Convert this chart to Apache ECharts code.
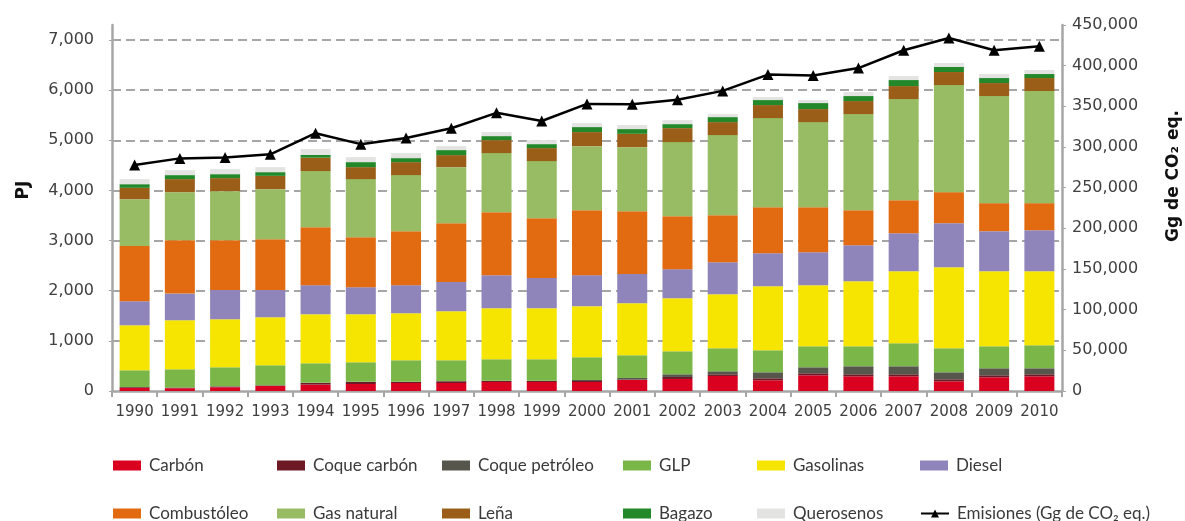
<!DOCTYPE html>
<html>
<head>
<meta charset="utf-8">
<script src="https://cdn.jsdelivr.net/npm/echarts@6/dist/echarts.min.js"></script>
<style>
  html, body { margin: 0; padding: 0; background: #fff; }
  #chart { width: 1185px; height: 521px; }
</style>
</head>
<body>
<div id="chart"></div>
<script>
// años
const years = ["1990", "1991", "1992", "1993", "1994", "1995", "1996", "1997", "1998", "1999", "2000",
  "2001", "2002", "2003", "2004", "2005", "2006", "2007", "2008", "2009", "2010"];

// consumo por combustible (PJ)
const carbon = [60, 55, 75, 100, 128, 140, 160, 160, 180, 180, 180, 220, 240, 300, 214, 313, 293, 293, 193, 273, 293];
const coqueCarbon = [15, 12, 15, 10, 32, 40, 20, 33, 20, 20, 20, 10, 40, 33, 39, 40, 40, 40, 40, 40, 40];
const coquePetroleo = [5, 3, 4, 4, 5, 5, 5, 5, 5, 5, 20, 30, 53, 60, 120, 120, 160, 160, 140, 140, 120];
const glp = [333, 363, 379, 399, 388, 388, 428, 415, 428, 428, 453, 453, 459, 459, 439, 419, 399, 459, 479, 439, 459];
const gasolinas = [898, 978, 958, 958, 978, 958, 938, 978, 1018, 1018, 1018, 1038, 1058, 1078, 1278, 1218, 1298, 1437, 1617, 1497, 1477];
const diesel = [479, 533, 585, 545, 579, 539, 559, 585, 659, 605, 619, 585, 579, 639, 659, 658, 718, 758, 878, 799, 818];
const combustoleo = [1100, 1064, 992, 1012, 1157, 998, 1078, 1171, 1257, 1191, 1297, 1251, 1058, 938, 918, 899, 699, 660, 619, 559, 540];
const gasNatural = [936, 958, 978, 998, 1120, 1158, 1118, 1118, 1178, 1138, 1277, 1277, 1477, 1597, 1776, 1696, 1916, 2016, 2136, 2136, 2236];
const lena = [226, 260, 260, 265, 266, 239, 259, 240, 259, 260, 280, 266, 279, 259, 260, 260, 260, 259, 260, 259, 259];
const bagazo = [73, 80, 79, 74, 54, 100, 80, 100, 80, 79, 100, 94, 80, 100, 100, 120, 100, 120, 100, 100, 80];
const querosenos = [101, 99, 100, 100, 119, 100, 100, 79, 80, 80, 80, 80, 80, 60, 60, 60, 80, 80, 80, 80, 80];

// emisiones (Gg de CO2 eq.)
const emisiones = [278000, 286000, 287000, 291000, 317000, 303500, 311000, 323000, 342000, 332000, 353000,
  352600, 358000, 369000, 389000, 388000, 397000, 419000, 434000, 419000, 424000];

const pjTicks = [0, 1000, 2000, 3000, 4000, 5000, 6000, 7000];

const fuels = [
  { name: "Carbón", data: carbon, color: "#da0020" },
  { name: "Coque carbón", data: coqueCarbon, color: "#6d1a26" },
  { name: "Coque petróleo", data: coquePetroleo, color: "#56564c" },
  { name: "GLP", data: glp, color: "#7ab648" },
  { name: "Gasolinas", data: gasolinas, color: "#f6e500" },
  { name: "Diesel", data: diesel, color: "#8f85ba" },
  { name: "Combustóleo", data: combustoleo, color: "#e26a10" },
  { name: "Gas natural", data: gasNatural, color: "#98bc64" },
  { name: "Leña", data: lena, color: "#9b5e18" },
  { name: "Bagazo", data: bagazo, color: "#22882a" },
  { name: "Querosenos", data: querosenos, color: "#e3e3e1" }
];
const lineName = "Emisiones (Gg de CO\u2082 eq.)";

const fmt = v => String(v).replace(/\B(?=(\d{3})+(?!\d))/g, ",");

const series = fuels.map(f => ({
  name: f.name,
  type: "bar",
  stack: "total",
  barWidth: 30,
  data: f.data,
  itemStyle: { color: f.color },
  emphasis: { disabled: true }
}));
series.push({
  name: lineName,
  type: "line",
  yAxisIndex: 1,
  data: emisiones,
  symbol: "triangle",
  symbolSize: 11,
  itemStyle: { color: "#000" },
  lineStyle: { color: "#000", width: 2.5 },
  emphasis: { disabled: true },
  z: 5
});

// leyenda: dos filas de seis
const legendCols = [113, 277, 442, 623, 757, 920];
const legendRows = [457, 505];
const legendNames = fuels.map(f => f.name).concat([lineName]);
const legends = legendNames.map((n, i) => ({
  data: [n === lineName ? { name: n } : { name: n, icon: "rect" }],
  left: legendCols[i % 6],
  top: legendRows[Math.floor(i / 6)],
  padding: 0,
  itemWidth: 28,
  itemHeight: 10,
  selectedMode: false,
  textStyle: { fontFamily: "Lato", fontSize: 17, color: "#3a3a3a", padding: [0, 0, 0, 3] }
}));

const chart = echarts.init(document.getElementById("chart"));
chart.setOption({
  animation: false,
  backgroundColor: "#fff",
  grid: { left: 112, right: 123, top: 25, bottom: 130 },
  legend: legends,
  xAxis: {
    type: "category",
    data: years,
    axisLine: { lineStyle: { color: "#a6a6a6", width: 2.5 } },
    axisTick: { show: true, length: 6, lineStyle: { color: "#a6a6a6", width: 2 } },
    axisLabel: { fontFamily: "DejaVu Sans", fontSize: 15, color: "#404040", margin: 14, interval: 0 }
  },
  yAxis: [
    {
      type: "value",
      min: 0,
      max: 7300,
      interval: 1000,
      axisLine: { show: true, lineStyle: { color: "#a6a6a6", width: 2.5 } },
      axisTick: { show: true, length: 3, lineStyle: { color: "#a6a6a6" } },
      axisLabel: {
        fontFamily: "DejaVu Sans", fontSize: 16, color: "#404040", margin: 18,
        showMaxLabel: false,
        formatter: v => pjTicks.includes(v) ? fmt(v) : ""
      },
      splitLine: {
        show: true, showMinLine: false, showMaxLine: false,
        lineStyle: { color: "#a6a6a6", width: 2, type: [9, 5] }
      }
    },
    {
      type: "value",
      min: 0,
      max: 450000,
      interval: 50000,
      position: "right",
      axisLine: { show: true, lineStyle: { color: "#a6a6a6", width: 2.5 } },
      axisTick: { show: true, length: 4, lineStyle: { color: "#a6a6a6" } },
      axisLabel: { fontFamily: "DejaVu Sans", fontSize: 16, color: "#404040", margin: 10, formatter: v => fmt(v) },
      splitLine: { show: false }
    }
  ],
  graphic: [
    {
      type: "text", x: 24, y: 190, rotation: Math.PI / 2,
      style: { text: "PJ", fontFamily: "DejaVu Sans", fontWeight: "bold", fontSize: 17, fill: "#111", align: "center", verticalAlign: "middle" }
    },
    {
      type: "text", x: 1174, y: 176, rotation: Math.PI / 2,
      style: { text: "Gg de CO\u2082 eq.", fontFamily: "DejaVu Sans", fontWeight: "bold", fontSize: 17, fill: "#111", align: "center", verticalAlign: "middle" }
    }
  ],
  series: series
});
</script>
</body>
</html>
